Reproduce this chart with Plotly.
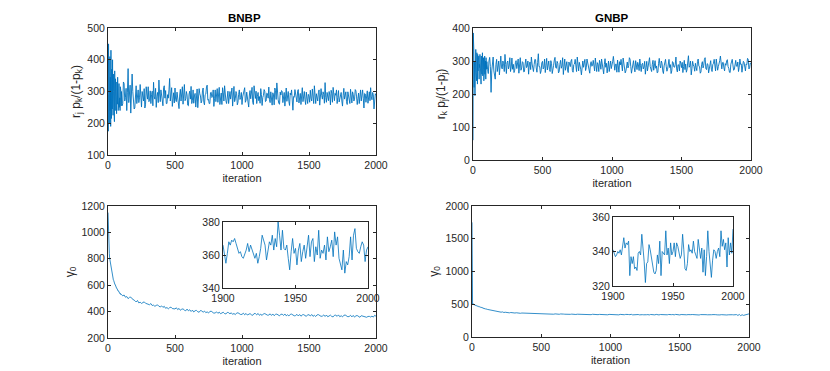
import plotly.graph_objects as go

W, H = 830, 371
BLUE = "#0072BD"
AX = "#262626"
FONT = "Liberation Sans, Arial, sans-serif"

# iteration index of the plotted samples
iter_early = list(range(0, 100, 2))
iter_fine = list(range(100, 2001, 5))
iter_mid = list(range(100, 2001, 10))
iter_inset = list(range(1900, 2001))

# BNBP: r_j p_k / (1 - p_k)
bnbp_early = [290, 175, 450, 230, 395, 200, 300, 410, 240, 345, 190, 430, 280, 215, 370, 330, 245, 400, 260, 225,
              355, 300, 250, 320, 205, 365, 285, 240, 340, 310, 255, 300, 230, 330, 275, 260, 345, 290, 240, 310,
              270, 325, 250, 295, 280, 240, 315, 265, 300, 255]
bnbp_fine = [300, 255, 262, 330, 325, 270, 281, 310, 240, 298, 372, 265, 290, 320, 232, 275, 355, 300, 270, 245,
             248, 296, 318, 262, 296, 305, 265, 280, 322, 252, 251, 300, 287, 270, 309, 248, 258, 315, 292, 276,
             315, 268, 271, 302, 262, 290, 301, 255, 329, 283, 276, 310, 250, 285, 297, 265, 336, 292, 268, 305,
             284, 258, 255, 312, 318, 279, 303, 262, 262, 290, 279, 305, 341, 270, 287, 312, 253, 281, 296, 264,
             311, 274, 268, 298, 282, 253, 246, 289, 307, 270, 293, 315, 260, 284, 322, 271, 277, 300, 289, 257,
             255, 292, 301, 276, 316, 262, 272, 305, 263, 286, 294, 251, 281, 308, 249, 279, 309, 293, 286, 264,
             270, 302, 311, 266, 258, 290, 292, 314, 320, 273, 275, 262, 262, 296, 298, 281, 284, 305, 253, 277,
             305, 268, 288, 309, 266, 283, 313, 259, 274, 295, 259, 312, 296, 270, 318, 287, 271, 262, 283, 301,
             262, 289, 300, 276, 289, 311, 254, 285, 316, 268, 277, 300, 293, 258, 266, 291, 305, 275, 281, 297,
             259, 283, 295, 310, 312, 266, 272, 298, 286, 270, 251, 289, 303, 277, 291, 313, 266, 259, 318, 284,
             278, 301, 262, 285, 297, 271, 284, 263, 309, 290, 256, 281, 288, 306, 301, 268, 270, 295, 293, 279,
             314, 274, 265, 299, 281, 257, 296, 289, 258, 311, 303, 275, 327, 280, 274, 262, 260, 298, 289, 303,
             300, 265, 276, 297, 254, 283, 311, 269, 287, 300, 268, 256, 295, 289, 305, 276, 241, 284, 282, 306,
             293, 272, 267, 301, 306, 264, 280, 294, 259, 287, 312, 268, 287, 300, 274, 259, 298, 283, 262, 291,
             285, 266, 304, 279, 270, 308, 293, 262, 318, 284, 262, 293, 281, 270, 296, 305, 257, 278, 309, 287,
             276, 299, 290, 263, 328, 281, 266, 297, 284, 271, 300, 289, 258, 304, 295, 266, 313, 282, 271, 294,
             288, 305, 262, 281, 303, 267, 279, 295, 297, 270, 254, 288, 310, 276, 285, 299, 268, 259, 299, 283,
             282, 262, 307, 288, 264, 299, 291, 270, 276, 306, 302, 283, 259, 278, 295, 262, 288, 305, 270, 291,
             305, 279, 248, 294, 292, 266, 281, 302, 263, 288, 299, 271, 312, 283, 274, 297, 290, 245, 266, 293,
             288]

# GNBP: r_k p_j / (1 - p_j)
gnbp_early = [60, 385, 250, 330, 220, 300, 275, 195, 290, 250, 335, 265, 310, 240, 325, 290, 230, 320, 270, 300,
              260, 315, 245, 290, 280, 320, 250, 305, 270, 230, 315, 285, 260, 300, 325, 255, 290, 275, 310, 240,
              295, 270, 315, 260, 285, 300, 245, 310, 275, 290]
gnbp_fine = [298, 275, 262, 300, 311, 283, 205, 270, 290, 312, 270, 255, 245, 290, 305, 268, 282, 300, 258, 285,
             315, 282, 276, 300, 292, 268, 320, 290, 262, 295, 300, 276, 285, 310, 268, 282, 309, 275, 290, 265,
             272, 295, 301, 277, 288, 306, 263, 285, 310, 272, 279, 298, 295, 267, 268, 291, 306, 280, 284, 300,
             260, 288, 297, 274, 312, 291, 275, 268, 289, 305, 304, 279, 266, 295, 322, 283, 283, 262, 270, 294,
             299, 276, 281, 306, 265, 287, 308, 273, 290, 300, 274, 268, 301, 292, 262, 285, 287, 303, 311, 280,
             278, 299, 293, 264, 268, 290, 302, 278, 285, 310, 259, 284, 306, 272, 290, 298, 273, 265, 297, 286,
             283, 300, 305, 271, 266, 289, 291, 305, 278, 268, 312, 287, 270, 296, 287, 275, 258, 289, 300, 281,
             292, 305, 271, 280, 306, 293, 280, 266, 263, 291, 298, 284, 287, 302, 276, 270, 309, 288, 268, 295,
             290, 268, 302, 293, 275, 306, 286, 272, 261, 290, 307, 281, 293, 264, 279, 300, 268, 288, 300, 277,
             285, 299, 314, 281, 272, 290, 291, 266, 303, 285, 266, 298, 288, 305, 277, 270, 309, 292, 281, 264,
             270, 288, 297, 279, 286, 310, 305, 284, 263, 276, 292, 301, 279, 267, 301, 290, 274, 296, 288, 271,
             306, 287, 268, 290, 293, 276, 282, 299, 260, 281, 299, 270, 287, 305, 310, 283, 276, 268, 290, 302,
             272, 296, 301, 278, 285, 264, 266, 293, 308, 287, 279, 300, 293, 270, 262, 285, 297, 305, 284, 269,
             275, 290, 305, 280, 289, 262, 270, 298, 296, 282, 281, 290, 312, 276, 267, 289, 288, 270, 300, 293,
             280, 296, 265, 283, 302, 274, 291, 266, 274, 297, 316, 281, 286, 300, 258, 277, 299, 288, 283, 269,
             293, 280, 271, 299, 306, 285, 282, 263, 267, 290, 298, 279, 287, 305, 310, 277, 274, 292, 290, 264,
             279, 294, 301, 275, 268, 289, 293, 305, 285, 270, 306, 294, 272, 283, 289, 301, 315, 280, 276, 295,
             296, 279, 270, 292, 287, 301, 304, 283, 278, 266, 265, 290, 299, 305, 288, 272, 274, 293, 302, 285,
             283, 297, 268, 280, 306, 290, 291, 266, 277, 299, 296, 283, 270, 291, 289, 308, 305, 276, 279, 294,
             292]

# BNBP gamma_0
bnbp_g0_early = [1150, 1020, 960, 905, 865, 842, 806, 793, 768, 757, 738, 727, 712, 703, 688, 682, 670, 665, 653, 650,
                 640, 637, 626, 626, 615, 614, 604, 604, 594, 594, 585, 586, 577, 577, 570, 570, 562, 563, 555, 557,
                 550, 551, 544, 546, 538, 541, 533, 536, 528, 531]
bnbp_g0_mid = [530, 519, 526, 509, 514, 498, 508, 510, 497, 493,
               483, 473, 484, 466, 471, 462, 470, 474, 463, 459,
               458, 452, 461, 446, 449, 440, 447, 451, 440, 436,
               443, 432, 440, 425, 431, 421, 430, 434, 423, 419,
               420, 429, 415, 424, 410, 418, 421, 411, 406, 419,
               406, 414, 401, 411, 397, 407, 409, 399, 395, 408,
               405, 395, 404, 392, 398, 389, 401, 403, 392, 388,
               390, 398, 387, 396, 384, 392, 395, 385, 382, 394,
               392, 383, 391, 379, 386, 377, 389, 391, 382, 378,
               379, 388, 376, 386, 374, 383, 385, 376, 372, 385,
               385, 376, 386, 372, 380, 371, 383, 385, 376, 373,
               374, 383, 371, 382, 369, 379, 381, 371, 368, 380,
               380, 371, 382, 368, 376, 367, 379, 381, 372, 368,
               370, 379, 367, 378, 365, 375, 377, 367, 364, 376,
               376, 367, 378, 364, 372, 363, 375, 377, 368, 364,
               366, 375, 363, 374, 361, 371, 373, 363, 360, 372,
               373, 364, 375, 361, 369, 360, 372, 374, 365, 361,
               363, 372, 360, 371, 358, 368, 370, 360, 357, 369,
               366, 363, 363, 357, 363, 364, 359, 366, 358, 372,
               365]
bnbp_g0_tail = [366, 360, 355, 361, 368, 366, 369, 368, 370, 367,
                363, 361, 362, 359, 358, 360, 363, 367, 362, 366,
                363, 360, 358, 361, 355, 359, 364, 372, 369, 366,
                357, 362, 368, 366, 372, 363, 370, 365, 380, 372,
                363, 375, 364, 363, 366, 358, 351, 362, 370, 361,
                364, 354, 363, 367, 356, 362, 366, 358, 364, 372,
                359, 368, 370, 356, 365, 360, 375, 358, 363, 361,
                366, 357, 371, 362, 365, 369, 359, 374, 366, 371,
                358, 355, 351, 363, 349, 356, 354, 359, 371, 357,
                372, 376, 364, 362, 361, 365, 368, 366, 356, 363,
                365]

# GNBP gamma_0
gnbp_g0_early = [1750, 520, 505, 512, 498, 503, 494, 500, 490, 495, 486, 491, 482, 488, 478, 484, 475, 480, 471, 477,
                 468, 473, 465, 470, 462, 467, 459, 464, 456, 461, 453, 458, 450, 455, 447, 452, 444, 449, 441, 446,
                 438, 443, 435, 440, 432, 437, 429, 434, 426, 431]
gnbp_g0_mid = [430, 422, 418, 409, 413, 398, 402, 392, 395, 386,
               384, 379, 383, 374, 378, 371, 376, 369, 374, 368,
               372, 366, 370, 364, 369, 362, 366, 365, 360, 364,
               362, 358, 364, 356, 360, 361, 355, 359, 353, 358,
               356, 352, 357, 350, 355, 353, 349, 354, 351, 348,
               353, 349, 351, 347, 352, 346, 350, 348, 345, 350,
               350, 346, 349, 345, 351, 344, 348, 347, 343, 349,
               347, 344, 348, 342, 346, 345, 341, 347, 343, 345,
               346, 341, 345, 343, 340, 346, 342, 344, 339, 345,
               343, 340, 346, 339, 344, 342, 338, 345, 341, 343,
               340, 345, 339, 343, 341, 346, 338, 342, 344, 339,
               343, 338, 344, 341, 339, 345, 340, 342, 337, 344,
               341, 343, 338, 345, 340, 337, 343, 341, 344, 338,
               342, 339, 344, 337, 341, 343, 338, 345, 340, 339,
               337, 343, 340, 338, 344, 339, 342, 336, 341, 343,
               340, 338, 343, 341, 336, 342, 339, 344, 338, 341,
               339, 343, 337, 340, 342, 336, 341, 338, 343, 337,
               341, 338, 340, 343, 336, 339, 342, 337, 340, 338,
               341, 342, 329, 344, 326, 340, 330, 336, 340, 352,
               353]
gnbp_g0_tail = [341, 339, 337, 338, 340, 339, 341, 338, 343, 348,
                342, 345, 344, 346, 326, 337, 333, 337, 330, 331,
                329, 339, 340, 338, 350, 343, 334, 322, 333, 334,
                344, 341, 336, 330, 328, 327, 329, 338, 333, 346,
                326, 340, 339, 338, 352, 338, 342, 333, 345, 338,
                340, 345, 337, 345, 343, 339, 336, 338, 350, 341,
                330, 329, 333, 344, 340, 341, 339, 346, 340, 338,
                336, 347, 342, 336, 342, 328, 341, 326, 337, 352,
                340, 333, 325, 335, 341, 340, 336, 340, 342, 337,
                352, 343, 347, 341, 345, 331, 348, 338, 345, 339,
                353]


def px_x(a, b):
    return [a / W, b / W]


def px_y(top, bottom):
    return [(H - bottom) / H, (H - top) / H]


def axis_style(domain, rng, dtick, anchor, title=None, title_size=11):
    d = dict(
        domain=domain, range=rng, dtick=dtick, anchor=anchor, automargin=False,
        showline=True, mirror="ticks", linecolor=AX, linewidth=1,
        ticks="inside", ticklen=3, tickcolor=AX, tickwidth=1,
        showgrid=False, zeroline=False, tickfont=dict(size=10.5, color=AX, family=FONT),
    )
    if title:
        d["title"] = dict(text=title, font=dict(size=title_size, color=AX, family=FONT), standoff=4)
    return d


fig = go.Figure()
series = [
    (iter_early + iter_fine, bnbp_early + bnbp_fine, "x", "y", 0.9),
    (iter_early + iter_fine, gnbp_early + gnbp_fine, "x2", "y2", 0.9),
    (iter_early + iter_mid, bnbp_g0_early + bnbp_g0_mid, "x3", "y3", 0.8),
    (iter_early + iter_mid, gnbp_g0_early + gnbp_g0_mid, "x4", "y4", 0.8),
    (iter_inset, bnbp_g0_tail, "x5", "y5", 0.8),
    (iter_inset, gnbp_g0_tail, "x6", "y6", 0.8),
]
for xs, ys, xa, ya, lw in series:
    fig.add_trace(go.Scatter(x=xs, y=ys, mode="lines", line=dict(color=BLUE, width=lw),
                             xaxis=xa, yaxis=ya, showlegend=False, hoverinfo="skip"))

fig.update_layout(
    width=W, height=H,
    margin=dict(l=0, r=0, t=0, b=0, autoexpand=False),
    paper_bgcolor="white", plot_bgcolor="white",
    font=dict(family=FONT, color=AX),
    xaxis=axis_style(px_x(108, 376), [0, 2000], 500, "y", "iteration"),
    yaxis=axis_style(px_y(28, 155), [100, 500], 100, "x",
                     "r<sub>j</sub> p<sub>k</sub>/(1-p<sub>k</sub>)", 12),
    xaxis2=axis_style(px_x(473, 751), [0, 2000], 500, "y2", "iteration"),
    yaxis2=axis_style(px_y(28, 160), [0, 400], 100, "x2",
                      "r<sub>k</sub> p<sub>j</sub>/(1-p<sub>j</sub>)", 12),
    xaxis3=axis_style(px_x(108, 376), [0, 2000], 500, "y3", "iteration"),
    yaxis3=axis_style(px_y(206, 338), [200, 1200], 200, "x3", "γ<sub>0</sub>", 12),
    xaxis4=axis_style(px_x(472, 749), [0, 2000], 500, "y4", "iteration"),
    yaxis4=axis_style(px_y(206, 337), [0, 2000], 500, "x4", "γ<sub>0</sub>", 12),
    xaxis5=axis_style(px_x(223, 368), [1900, 2000], 50, "y5"),
    yaxis5=axis_style(px_y(222, 288), [340, 380], 20, "x5"),
    xaxis6=axis_style(px_x(613, 733), [1900, 2000], 50, "y6"),
    yaxis6=axis_style(px_y(217, 286), [320, 360], 20, "x6"),
    annotations=[
        dict(text="<b>BNBP</b>", x=244 / W, y=(H - 18) / H, xref="paper", yref="paper",
             xanchor="center", yanchor="middle", showarrow=False,
             font=dict(size=11.5, color="black", family=FONT)),
        dict(text="<b>GNBP</b>", x=612 / W, y=(H - 18) / H, xref="paper", yref="paper",
             xanchor="center", yanchor="middle", showarrow=False,
             font=dict(size=11.5, color="black", family=FONT)),
    ],
)

# the page's default 8px body margin would push the figure off its pixel grid
fig.write_html("out.html", config={"displayModeBar": False},
               post_script="document.body.style.margin = '0px';")
